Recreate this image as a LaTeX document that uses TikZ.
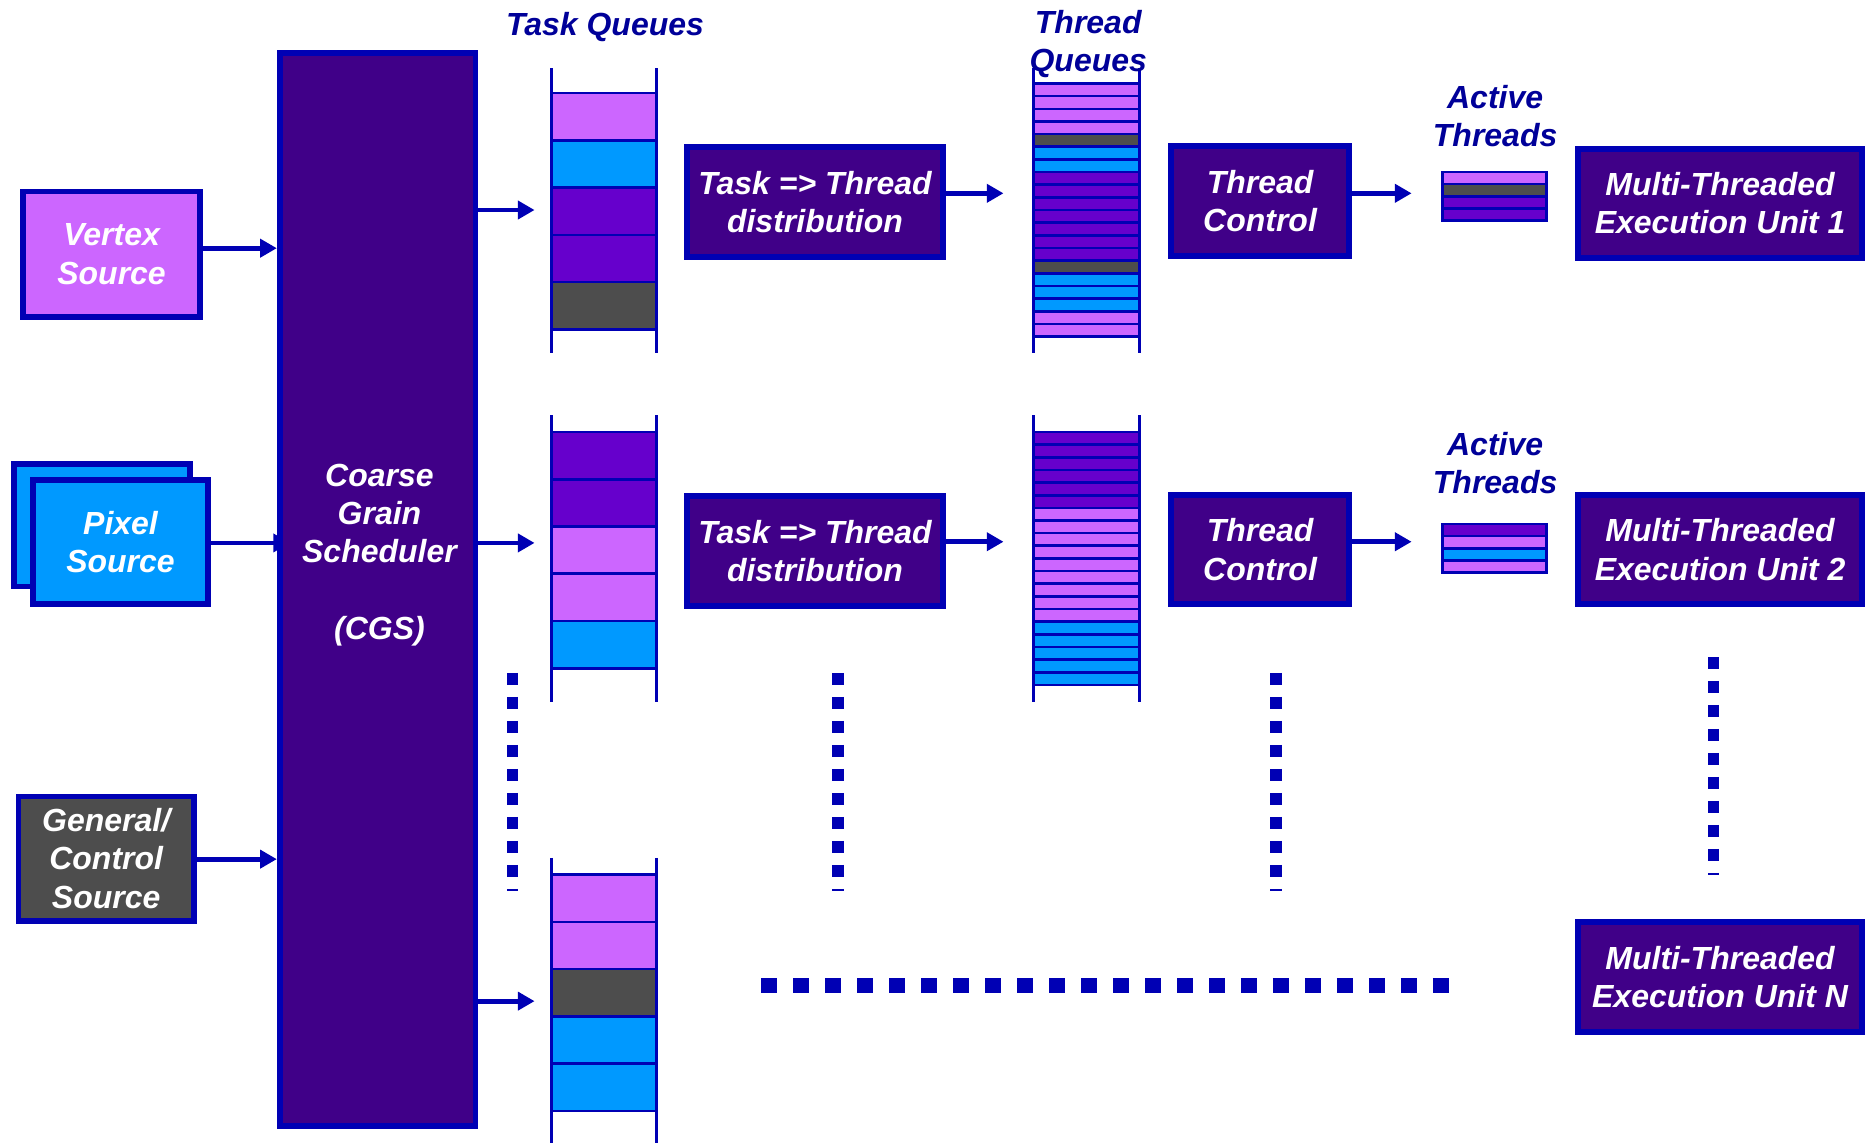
\documentclass[tikz,border=0pt]{standalone}
\usepackage{fontspec}
\setmainfont{Liberation Sans}
\usetikzlibrary{arrows.meta}

\definecolor{edgeblue}{HTML}{0000B4}
\definecolor{indigo}{HTML}{400088}
\definecolor{qpink}{HTML}{CC66FF}
\definecolor{qblue}{HTML}{0099FF}
\definecolor{qpurple}{HTML}{6600CC}
\definecolor{qgrey}{HTML}{4D4D4D}
\definecolor{titleblue}{HTML}{000099}

\pgfdeclarelayer{back}
\pgfsetlayers{back,main}

\tikzset{
  lbl/.style={font=\fontsize{26.8}{32}\selectfont\bfseries\itshape, align=center, inner sep=0pt,
    execute at begin node={\rule{0pt}{27pt}}},
  title/.style={lbl, text=titleblue},
  blockbox/.style={lbl, draw=edgeblue, line width=5pt, fill=#1, text=white},
  blockbox/.default=indigo,
  conn/.style={draw=edgeblue, line width=4pt, -{Triangle[length=14pt,width=15pt]}},
  cellline/.style={draw=edgeblue, line width=2.2pt},
  rail/.style={draw=edgeblue, line width=2.4pt},
  dotcol/.style={draw=edgeblue, line width=10pt, dash pattern=on 10pt off 10.1pt},
  dotrow/.style={draw=edgeblue, line width=13pt, dash pattern=on 13.4pt off 13.4pt},
}

% a stack of queue slots: left x, right x, top y, slot height, colours
\newcommand\stackcells[5]{%
  \foreach \c [count=\i from 0] in {#5}{%
    \pgfmathsetmacro\ya{#3+\i*#4}%
    \pgfmathsetmacro\yb{#3+(\i+1)*#4}%
    \draw[cellline, fill=\c] (#1,\ya) rectangle (#2,\yb);
  }%
}

\begin{document}
\begin{tikzpicture}[x=1pt,y=-1pt]
\useasboundingbox (0,0) rectangle (1568,958);
\begin{pgfonlayer}{back}
  \fill[white] (0,0) rectangle (1568,958);
\end{pgfonlayer}

% ---- sources ----
\node[blockbox=qpink, minimum width=148pt, minimum height=105pt] (vertex) at (93.5,213) {Vertex\\Source};
\node[blockbox=qblue, minimum width=148pt, minimum height=103pt] (pixelback) at (85.5,440) {};
\node[blockbox=qblue, minimum width=147pt, minimum height=104pt] (pixel) at (101,454.5) {Pixel\\Source};
\node[blockbox=qgrey, minimum width=147pt, minimum height=104pt] (general) at (89,719.5) {General/\\Control\\Source};

% ---- coarse grain scheduler ----
\node[blockbox, minimum width=164pt, minimum height=899pt] (cgs) at (316.5,494) {};
\node[lbl, text=white] (cgstext) at (318,465) {Coarse\\Grain\\Scheduler\\[32pt](CGS)};

% ---- task queues ----
\stackcells{462}{550}{78}{39.6}{qpink,qblue,qpurple,qpurple,qgrey}
\stackcells{462}{550}{362}{39.6}{qpurple,qpurple,qpink,qpink,qblue}
\stackcells{462}{550}{733}{39.6}{qpink,qpink,qgrey,qblue,qblue}
\foreach \xr in {462,550}{
  \draw[rail] (\xr,57) -- (\xr,296);
  \draw[rail] (\xr,348) -- (\xr,588);
  \draw[rail] (\xr,719) -- (\xr,958);
}
\coordinate (tq1in) at (448,176);
\coordinate (tq2in) at (448,455);
\coordinate (tq3in) at (448,839);

% ---- task to thread distribution ----
\node[blockbox, minimum width=215pt, minimum height=92pt] (ttd1) at (683,169.5) {Task => Thread\\distribution};
\node[blockbox, minimum width=215pt, minimum height=92pt] (ttd2) at (683,461.5) {Task => Thread\\distribution};

% ---- thread queues ----
\stackcells{866}{955}{70}{10.6}{qpink,qpink,qpink,qpink,qgrey,qblue,qblue,qpurple,qpurple,qpurple,qpurple,qpurple,qpurple,qpurple,qgrey,qblue,qblue,qblue,qpink,qpink}
\stackcells{866}{955}{362}{10.6}{qpurple,qpurple,qpurple,qpurple,qpurple,qpurple,qpink,qpink,qpink,qpink,qpink,qpink,qpink,qpink,qpink,qblue,qblue,qblue,qblue,qblue}
\foreach \xr in {866,955}{
  \draw[rail] (\xr,57) -- (\xr,296);
  \draw[rail] (\xr,348) -- (\xr,588);
}
\coordinate (thq1in) at (841,162);
\coordinate (thq2in) at (841,454);

% ---- thread control ----
\node[blockbox, minimum width=149pt, minimum height=92pt] (tc1) at (1056,168.5) {Thread\\Control};
\node[blockbox, minimum width=149pt, minimum height=92pt] (tc2) at (1056,460.5) {Thread\\Control};

% ---- active threads ----
\stackcells{1209}{1296}{144}{10.25}{qpink,qgrey,qpurple,qpurple}
\stackcells{1209}{1296}{439}{10.25}{qpurple,qpink,qblue,qpink}
\coordinate (at1in) at (1183,162);
\coordinate (at2in) at (1183,454);

% ---- execution units ----
\node[blockbox, minimum width=238pt, minimum height=92pt] (eu1) at (1441.5,170.5) {Multi-Threaded\\Execution Unit 1};
\node[blockbox, minimum width=238pt, minimum height=92pt] (eu2) at (1441.5,460.5) {Multi-Threaded\\Execution Unit 2};
\node[blockbox, minimum width=238pt, minimum height=92pt] (eun) at (1441.5,818.5) {Multi-Threaded\\Execution Unit N};

% ---- headings ----
\node[title] (tqtitle) at (507,19) {Task Queues};
\node[title] (thqtitle) at (912,37) {Thread\\Queues};
\node[title] (at1title) at (1253,97) {Active\\Threads};
\node[title] (at2title) at (1253,388) {Active\\Threads};

% ---- connectors ----
\begin{pgfonlayer}{back}
  \draw[conn] (vertex.east |- 0,208) -- (cgs.west |- 0,208);
  \coordinate (pixelin) at (243,455);
  \draw[conn] (pixel.east |- pixelin) -- (pixelin);
  \draw[conn] (general.east |- 0,720) -- (cgs.west |- 0,720);
\end{pgfonlayer}
\draw[conn] (cgs.east |- tq1in) -- (tq1in);
\draw[conn] (cgs.east |- tq2in) -- (tq2in);
\draw[conn] (cgs.east |- tq3in) -- (tq3in);
\draw[conn] (ttd1.east |- thq1in) -- (thq1in);
\draw[conn] (ttd2.east |- thq2in) -- (thq2in);
\draw[conn] (tc1.east |- at1in) -- (at1in);
\draw[conn] (tc2.east |- at2in) -- (at2in);

% ---- continuation marks ----
\draw[dotcol] (429.5,564) -- (429.5,746.5);
\draw[dotcol] (702,564) -- (702,746.5);
\draw[dotcol] (1069,564) -- (1069,746.5);
\draw[dotcol] (1436,550.6) -- (1436,733);
\draw[dotrow] (638,826) -- (1215,826);
\end{tikzpicture}
\end{document}
